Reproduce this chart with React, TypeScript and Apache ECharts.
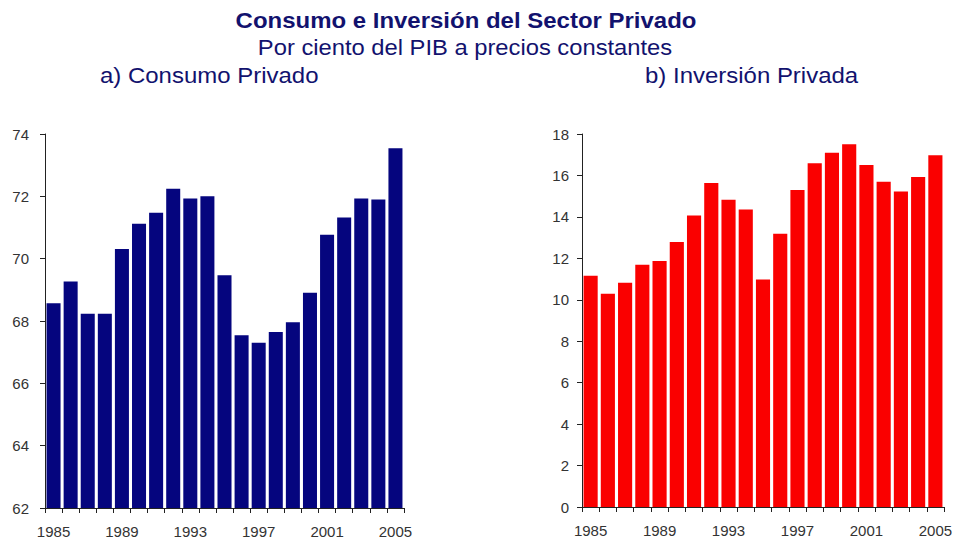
import React, { useEffect, useRef } from "react";
import * as echarts from "echarts";

const years = [
  "1985", "1986", "1987", "1988", "1989", "1990", "1991", "1992", "1993", "1994",
  "1995", "1996", "1997", "1998", "1999", "2000", "2001", "2002", "2003", "2004", "2005",
];
const consumoPrivado = [
  68.57, 69.27, 68.23, 68.23, 70.31, 71.12, 71.47, 72.24, 71.93, 72.0,
  69.47, 67.54, 67.3, 67.65, 67.96, 68.91, 70.77, 71.32, 71.93, 71.9, 73.54,
];
const inversionPrivada = [
  11.16, 10.29, 10.82, 11.69, 11.87, 12.79, 14.07, 15.64, 14.83, 14.36,
  10.98, 13.19, 15.3, 16.59, 17.09, 17.5, 16.51, 15.7, 15.23, 15.93, 16.97,
];
const mainTitle = "Consumo e Inversión del Sector Privado";
const subTitle = "Por ciento del PIB a precios constantes";
const leftTitle = "a) Consumo Privado";
const rightTitle = "b) Inversión Privada";

const FONT = "'Liberation Sans', Arial, sans-serif";
const NAVY = "#12126e";

function txt(text: string, x: number, y: number, font: string, scaleX: number, align: string) {
  return {
    type: "text",
    x,
    y,
    scaleX,
    style: {
      text,
      font,
      fill: NAVY,
      textAlign: align,
      align,
      textVerticalAlign: "middle",
      verticalAlign: "middle",
    },
  };
}

export default function App() {
  const ref = useRef<HTMLDivElement>(null);
  useEffect(() => {
    document.body.style.margin = "0";
    const chart = echarts.init(ref.current!, undefined, { renderer: "svg" });
    const axisLine = { show: true, lineStyle: { color: "#222", width: 1 } };
    const axisTick = { show: true, length: 5, lineStyle: { color: "#222" } };
    const yLabel = { color: "#333", fontSize: 15, fontFamily: FONT };
    const xLabel = { color: "#333", fontSize: 15, fontFamily: FONT, margin: 16, interval: 3 };
    chart.setOption({
      animation: false,
      backgroundColor: "#ffffff",
      graphic: [
        txt(mainTitle, 466, 20.5, "bold 22px 'Liberation Sans', Arial, sans-serif", 1.09, "center"),
        txt(subTitle, 465, 47, "22px 'Liberation Sans', Arial, sans-serif", 1.08, "center"),
        txt(leftTitle, 100, 75, "22px 'Liberation Sans', Arial, sans-serif", 1.09, "left"),
        txt(rightTitle, 645, 75, "22px 'Liberation Sans', Arial, sans-serif", 1.09, "left"),
      ],
      grid: [
        { left: 45, top: 134, width: 359, height: 374 },
        { left: 582, top: 134, width: 362, height: 373 },
      ],
      xAxis: [
        {
          type: "category",
          gridIndex: 0,
          data: years,
          boundaryGap: true,
          axisLine,
          axisTick: { ...axisTick, interval: 0 },
          axisLabel: xLabel,
        },
        {
          type: "category",
          gridIndex: 1,
          data: years,
          boundaryGap: true,
          axisLine,
          axisTick: { ...axisTick, interval: 0 },
          axisLabel: xLabel,
        },
      ],
      yAxis: [
        {
          type: "value",
          gridIndex: 0,
          min: 62,
          max: 74,
          interval: 2,
          axisLine,
          axisTick,
          axisLabel: { ...yLabel, margin: 16 },
          splitLine: { show: false },
        },
        {
          type: "value",
          gridIndex: 1,
          min: 0,
          max: 18,
          interval: 2,
          axisLine,
          axisTick,
          axisLabel: { ...yLabel, margin: 13 },
          splitLine: { show: false },
        },
      ],
      series: [
        {
          type: "bar",
          xAxisIndex: 0,
          yAxisIndex: 0,
          data: consumoPrivado,
          barCategoryGap: "18%",
          itemStyle: { color: "#05057e" },
        },
        {
          type: "bar",
          xAxisIndex: 1,
          yAxisIndex: 1,
          data: inversionPrivada,
          barCategoryGap: "18%",
          itemStyle: { color: "#fa0000" },
        },
      ],
    });
    return () => chart.dispose();
  }, []);
  return <div ref={ref} style={{ width: 957, height: 543 }} />;
}
